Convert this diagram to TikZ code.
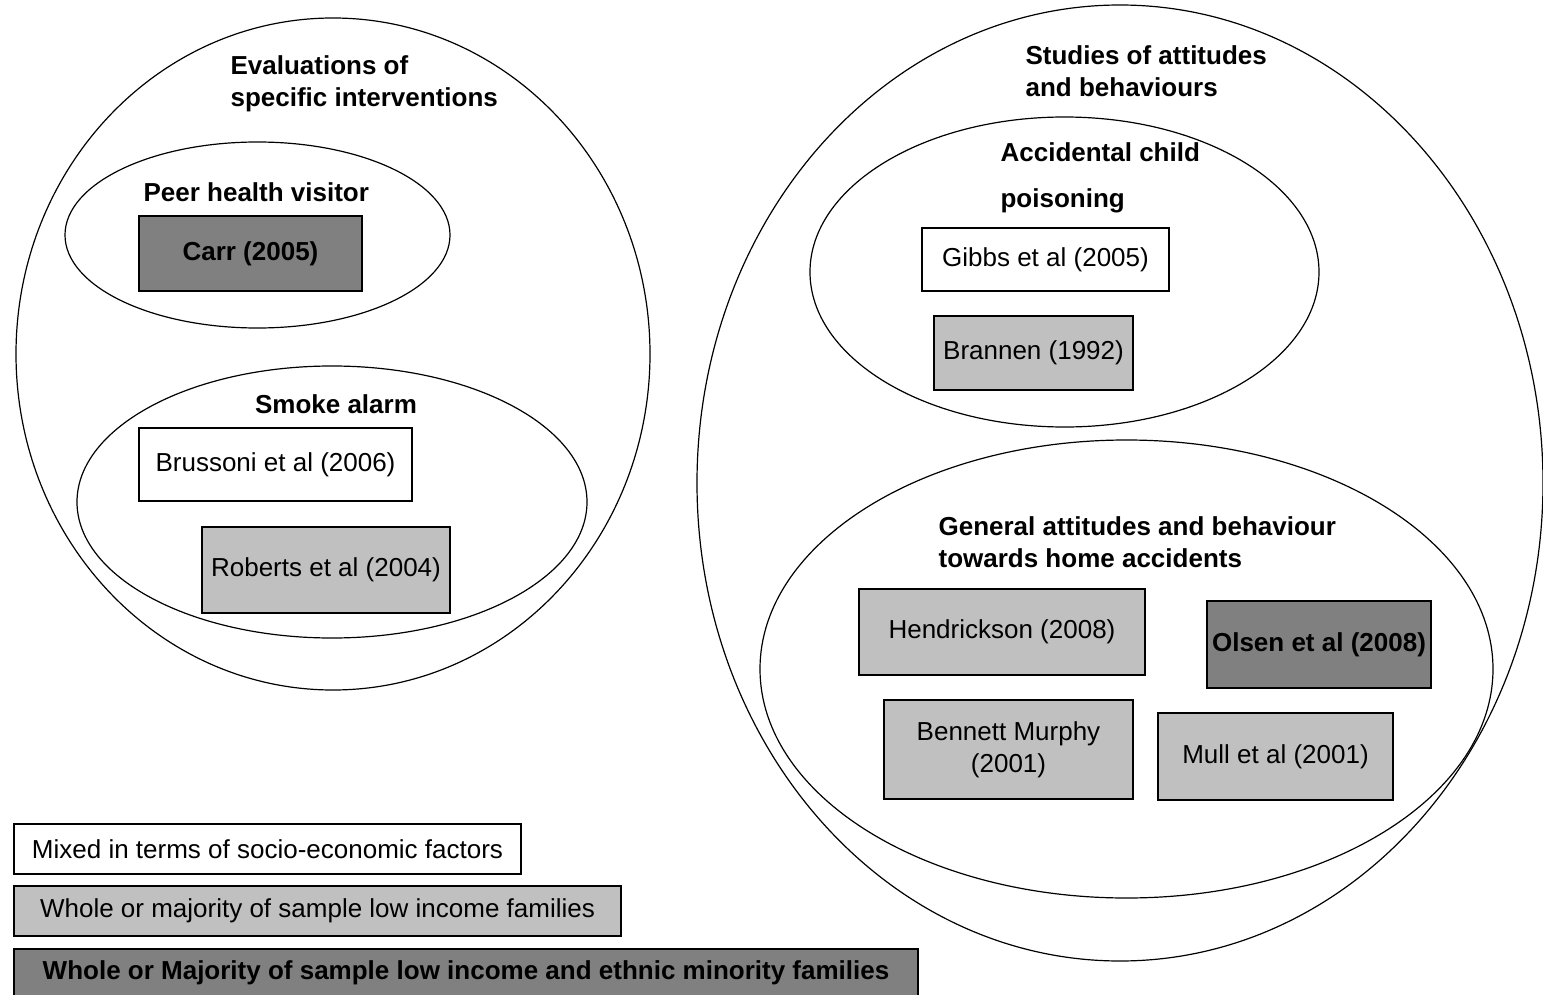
\documentclass[tikz,border=0pt]{standalone}
\usepackage{fontspec}
\setmainfont{Liberation Sans}
\definecolor{lgray}{HTML}{C0C0C0}
\definecolor{dgray}{HTML}{808080}
\tikzset{bx/.style={draw,rectangle,line width=0.7pt,inner sep=0pt,align=center,font=\fontsize{13}{16}\selectfont}}
\tikzset{wh/.style={bx,fill=white}}
\tikzset{lt/.style={bx,fill=lgray}}
\tikzset{dk/.style={bx,fill=dgray,font=\fontsize{13}{16}\selectfont\bfseries}}
\tikzset{ttl/.style={inner sep=0pt,align=left,font=\fontsize{13}{16}\selectfont\bfseries}}

\begin{document}
\begin{tikzpicture}[x=0.5pt,y=-0.5pt]
\useasboundingbox (0,0) rectangle (1543,995);
\tikzstyle{every path}=[line width=0.6pt]
% groups
\draw (333,354) ellipse [x radius=317,y radius=336];
\draw (257.5,235) ellipse [x radius=192.5,y radius=93];
\draw (332,502) ellipse [x radius=255,y radius=136];
\draw (1120,483) ellipse [x radius=423,y radius=478];
\draw (1064.5,272) ellipse [x radius=254.5,y radius=155];
\draw (1126.5,669) ellipse [x radius=366.5,y radius=229];
% group titles
\node[ttl,anchor=west] (evl) at (230,84) {Evaluations of\\specific interventions};
\node[ttl,anchor=west] (peer) at (143,192) {Peer health visitor};
\node[ttl] (smk) at (336,404) {Smoke alarm};
\node[ttl,anchor=west] (stud) at (1025,71) {Studies of attitudes\\and behaviours};
\node[ttl,anchor=west] (acc) at (1000,178) {Accidental child\\[7pt]poisoning};
\node[ttl,anchor=west] (gen) at (938,542) {General attitudes and behaviour\\towards home accidents};
% studies
\node[dk,minimum width=111.5pt,minimum height=37.5pt] (carr) at (250.5,253.5) {Carr (2005)};
\node[wh,minimum width=136.5pt,minimum height=36.5pt] (bru) at (275.5,464.5) {Brussoni et al (2006)};
\node[lt,minimum width=124pt,minimum height=43pt] (rob) at (326,570) {Roberts et al (2004)};
\node[wh,minimum width=123.5pt,minimum height=31.5pt] (gib) at (1045.5,259.5) {Gibbs et al (2005)};
\node[lt,minimum width=99.5pt,minimum height=37pt] (bra) at (1033.5,353) {Brannen (1992)};
\node[lt,minimum width=143pt,minimum height=43pt] (hen) at (1002,632) {Hendrickson (2008)};
\node[dk,minimum width=112pt,minimum height=43.5pt] (ols) at (1319,644.5) {Olsen et al (2008)};
\node[lt,minimum width=124.5pt,minimum height=49.5pt] (ben) at (1008.5,749.5) {Bennett Murphy\\(2001)};
\node[lt,minimum width=117.5pt,minimum height=43.5pt] (mul) at (1275.5,756.5) {Mull et al (2001)};
% key
\node[wh,minimum width=253.5pt,minimum height=25pt] (k1) at (267.5,849) {Mixed in terms of socio-economic factors};
\node[lt,minimum width=303.5pt,minimum height=25pt] (k2) at (317.5,911) {Whole or majority of sample low income families};
\node[dk,minimum width=452pt,minimum height=24pt] (k3) at (466,973) {Whole or Majority of sample low income and ethnic minority families};
\end{tikzpicture}
\end{document}
